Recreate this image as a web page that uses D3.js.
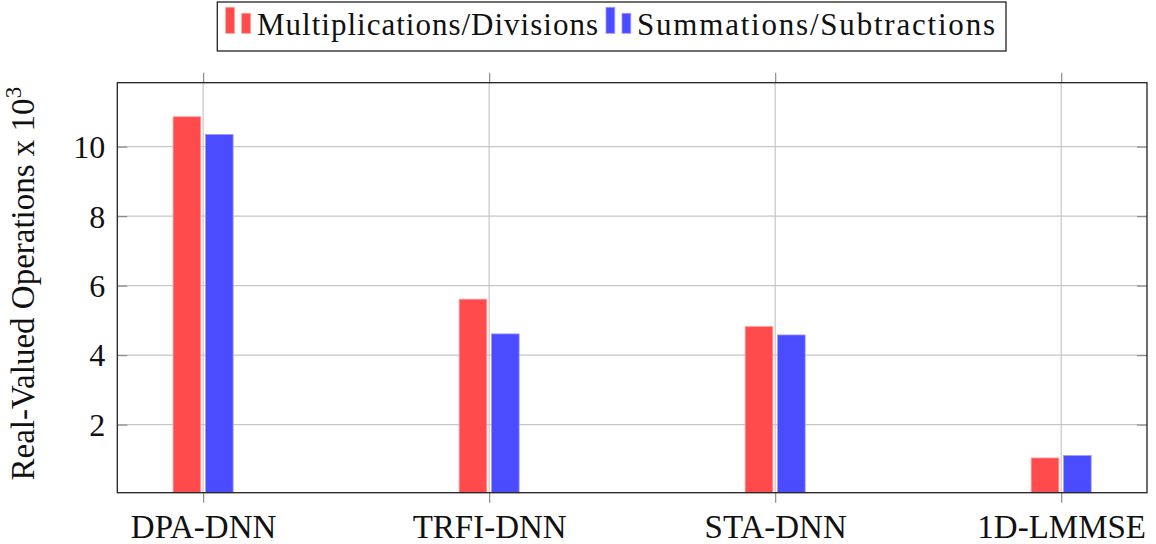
<!DOCTYPE html>
<html>
<head>
<meta charset="utf-8">
<script src="https://cdn.jsdelivr.net/npm/d3@7"></script>
<style>
  html, body { margin: 0; padding: 0; background: #fff; }
  svg { display: block; }
</style>
</head>
<body>
<svg id="chart" width="1156" height="544"></svg>
<script>
// Operation counts (in thousands) per estimator
const categories = ["DPA-DNN", "TRFI-DNN", "STA-DNN", "1D-LMMSE"];
const seriesNames = ["Multiplications/Divisions", "Summations/Subtractions"];
const multDiv = [10.86, 5.61, 4.82, 1.04];
const sumSub = [10.35, 4.61, 4.58, 1.11];
const yTicks = [2, 4, 6, 8, 10];
const yRange = [0.04, 11.84];

const seriesValues = [multDiv, sumSub];
const colors = { fill: ["#ff4b4b", "#4b4bff"], edge: ["#ff9c9c", "#9c9cff"] };
const serif = '"Liberation Serif", "Times New Roman", serif';

const svg = d3.select("#chart");
const plot = { left: 117.3, right: 1147, top: 82.7, bottom: 492.7 };

const x = d3.scaleLinear()
  .domain([-0.3, categories.length - 1 + 0.3])
  .range([plot.left, plot.right]);
const inner = d3.scaleBand()
  .domain(seriesNames)
  .range([-30, 30])
  .paddingInner(0.145);
const y = d3.scaleLinear().domain(yRange).range([plot.bottom, plot.top]);

const gridColor = "#c6c6c6";
const tickColor = "#8c8c8c";

// horizontal grid lines
svg.append("g").selectAll("line").data(yTicks).join("line")
  .attr("x1", plot.left).attr("x2", plot.right)
  .attr("y1", d => y(d)).attr("y2", d => y(d))
  .attr("stroke", gridColor).attr("stroke-width", 1.2);

// vertical grid lines at each category
svg.append("g").selectAll("line").data(categories).join("line")
  .attr("x1", (d, i) => x(i)).attr("x2", (d, i) => x(i))
  .attr("y1", plot.top).attr("y2", plot.bottom)
  .attr("stroke", gridColor).attr("stroke-width", 1.2);

// bars
const base = y.domain()[0];
seriesNames.forEach((name, s) => {
  svg.append("g").selectAll("rect").data(seriesValues[s]).join("rect")
    .attr("x", (d, i) => x(i) + inner(name))
    .attr("width", inner.bandwidth())
    .attr("y", d => y(d))
    .attr("height", d => y(base) - y(d))
    .attr("fill", colors.fill[s])
    .attr("stroke", colors.edge[s])
    .attr("stroke-width", 0.8);
});

// y axis: ticks point inward on both sides
const yAxisLeft = svg.append("g")
  .attr("transform", `translate(${plot.left},0)`)
  .call(d3.axisLeft(y).tickValues(yTicks).tickSizeInner(-10).tickSizeOuter(0).tickPadding(12));
yAxisLeft.select(".domain").remove();
yAxisLeft.selectAll(".tick line").attr("stroke", tickColor).attr("stroke-width", 1.2);
yAxisLeft.selectAll(".tick text")
  .style("font-family", serif).style("font-size", "32px")
  .attr("fill", "#111").attr("dy", "0.34em");

const yAxisRight = svg.append("g")
  .attr("transform", `translate(${plot.right},0)`)
  .call(d3.axisRight(y).tickValues(yTicks).tickSizeInner(-10).tickSizeOuter(0).tickFormat(""));
yAxisRight.select(".domain").remove();
yAxisRight.selectAll(".tick line").attr("stroke", tickColor).attr("stroke-width", 1.2);

// x axis: ticks point outward at top and bottom
const catFmt = i => categories[i];
const xAxisBottom = svg.append("g")
  .attr("transform", `translate(0,${plot.bottom})`)
  .call(d3.axisBottom(x).tickValues(d3.range(categories.length)).tickFormat(catFmt)
    .tickSizeInner(10).tickSizeOuter(0).tickPadding(12));
xAxisBottom.select(".domain").remove();
xAxisBottom.selectAll(".tick line").attr("stroke", tickColor).attr("stroke-width", 1.2);
xAxisBottom.selectAll(".tick text")
  .style("font-family", serif).style("font-size", "33px")
  .attr("fill", "#111").attr("dy", "0.71em");

const xAxisTop = svg.append("g")
  .attr("transform", `translate(0,${plot.top})`)
  .call(d3.axisTop(x).tickValues(d3.range(categories.length)).tickFormat("")
    .tickSizeInner(10).tickSizeOuter(0));
xAxisTop.select(".domain").remove();
xAxisTop.selectAll(".tick line").attr("stroke", tickColor).attr("stroke-width", 1.2);

// plot frame
svg.append("rect")
  .attr("x", plot.left).attr("y", plot.top)
  .attr("width", plot.right - plot.left).attr("height", plot.bottom - plot.top)
  .attr("fill", "none").attr("stroke", "#222").attr("stroke-width", 1.3);

// y axis title
const yTitle = svg.append("text")
  .attr("transform", `translate(34,${(plot.top + plot.bottom) / 2 - 4}) rotate(-90)`)
  .attr("text-anchor", "middle")
  .attr("fill", "#111")
  .style("font-family", serif)
  .style("font-size", "33px");
yTitle.append("tspan").text("Real-Valued Operations x 10");
yTitle.append("tspan").text("3").style("font-size", "23px").attr("dy", -13);

// legend
const legend = svg.append("g");
legend.append("rect")
  .attr("x", 217.3).attr("y", 2).attr("width", 788.7).attr("height", 49)
  .attr("fill", "#fff").attr("stroke", "#222").attr("stroke-width", 1.3);

const legendItems = [
  { x: 225.7, textX: 257, textW: 341 },
  { x: 606, textX: 637, textW: 358 }
];
const legendBaseline = 33.3;
const markH = d3.scaleLinear().domain([0, 1]).range([0, 26]);
seriesNames.forEach((name, s) => {
  const it = legendItems[s];
  [1, 0.77].forEach((h, k) => {
    legend.append("rect")
      .attr("x", it.x + k * 16)
      .attr("y", legendBaseline - markH(h))
      .attr("width", 8.8)
      .attr("height", markH(h))
      .attr("fill", colors.fill[s])
      .attr("stroke", colors.edge[s])
      .attr("stroke-width", 0.8);
  });
  legend.append("text")
    .attr("x", it.textX).attr("y", 34.5)
    .attr("fill", "#111")
    .style("font-family", serif)
    .style("font-size", "31px")
    .attr("textLength", it.textW)
    .attr("lengthAdjust", "spacing")
    .text(name);
});
</script>
</body>
</html>
